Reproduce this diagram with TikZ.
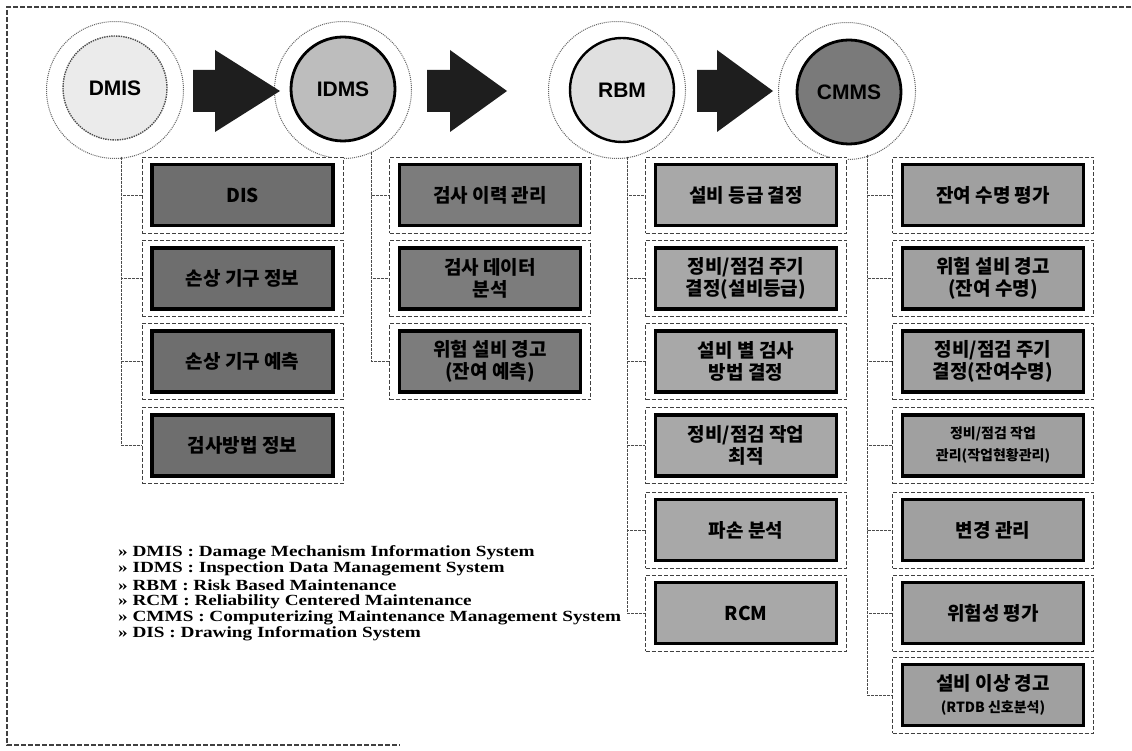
\documentclass[tikz,border=0pt]{standalone}
\usepackage{fontspec}
\setmainfont{Liberation Serif}
\newfontfamily\kr{Noto Sans CJK KR}
\newfontfamily\lab{Liberation Sans}
\definecolor{arrowfill}{HTML}{1E1E1E}
\definecolor{fdmis}{HTML}{EBEBEB}
\definecolor{fidms}{HTML}{BDBDBD}
\definecolor{frbm}{HTML}{E0E0E0}
\definecolor{fcmms}{HTML}{7A7A7A}
\definecolor{bdmis}{HTML}{6E6E6E}
\definecolor{bidms}{HTML}{7C7C7C}
\definecolor{brbm}{HTML}{A8A8A8}
\definecolor{bcmms}{HTML}{A0A0A0}
\tikzset{
  ring/.style={circle, minimum size=137pt, inner sep=0pt, draw=black!60, densely dotted, line width=1pt, fill=white},
  core/.style={circle, minimum size=104pt, inner sep=0pt, line width=2.8pt, draw=black, font=\lab\bfseries\fontsize{21}{23}\selectfont},
  outerbox/.style={rectangle, minimum width=201pt, minimum height=76pt, inner sep=0pt, draw=black!75, dash pattern=on 4pt off 2pt, line width=0.9pt, fill=white},
  innerbox/.style={rectangle, minimum width=181pt, minimum height=61pt, inner sep=0pt, draw=black, line width=3.5pt, align=center, font=\kr\bfseries\fontsize{19}{22}\selectfont, text=black},
  bracket/.style={draw=black!70, line width=0.9pt, dash pattern=on 3pt off 1pt},
  frameline/.style={draw=black!75, line width=1.2pt, dash pattern=on 5pt off 2pt},
  legend/.style={anchor=west, inner sep=0pt, font=\bfseries\fontsize{15.5}{17}\selectfont},
  blockarrow/.style={fill=arrowfill, draw=none}
}
\newcommand\entry[5]{%
  \node[outerbox] (#1o) at (#2,#3) {};
  \node[innerbox, fill=#4] (#1) at (#2,#3) {#5};}
\newcommand\barrow[3]{%
  \path[blockarrow] (#1,70) -- (#2,70) -- (#2,50) -- (#3,91) -- (#2,132) -- (#2,112) -- (#1,112) -- cycle;}
\newcommand\legtxt[1]{\scalebox{1.24}[1]{#1}}
\newcommand\smtxt[1]{{\fontsize{14}{17}\selectfont #1}}
\begin{document}
\begin{tikzpicture}[x=1pt,y=-1pt]
\useasboundingbox (0,0) rectangle (1132,751);
\fill[white] (0,0) rectangle (1132,751);
% frame
\coordinate (ftr) at (1131,7);
\coordinate (ftl) at (7,7);
\coordinate (fbl) at (7,745);
\coordinate (fbr) at (400,745);
\draw[frameline] (ftr) -- (ftl) -- (fbl) -- (fbr);

% circles
\node[ring] (dmisr) at (115,90) {};
\node[core, fill=fdmis, draw=black!70, line width=1.4pt, densely dotted] (dmis) at (115,88) {DMIS};
\node[ring] (idmsr) at (343,90) {};
\node[core, fill=fidms] (idms) at (343,89) {IDMS};
\node[ring] (rbmr) at (617,90) {};
\node[core, fill=frbm, line width=2.4pt] (rbm) at (622,90) {RBM};
\node[ring] (cmmsr) at (847,91) {};
\node[core, fill=fcmms] (cmms) at (849,92) {CMMS};

% block arrows
\barrow{193}{215}{280}
\barrow{427}{450}{507}
\barrow{697}{717}{773}

% DMIS column
\entry{d1}{242.5}{195}{bdmis}{DIS}
\entry{d2}{242.5}{278.5}{bdmis}{손상 기구 정보}
\entry{d3}{242.5}{361.5}{bdmis}{손상 기구 예측}
\entry{d4}{242.5}{445.5}{bdmis}{검사방법 정보}
% IDMS column
\entry{i1}{490}{195}{bidms}{검사 이력 관리}
\entry{i2}{490}{278.5}{bidms}{검사 데이터\\분석}
\entry{i3}{490}{361.5}{bidms}{위험 설비 경고\\(잔여 예측)}
% RBM column
\entry{r1}{746}{195}{brbm}{설비 등급 결정}
\entry{r2}{746}{278.5}{brbm}{정비/점검 주기\\결정(설비등급)}
\entry{r3}{746}{361.5}{brbm}{설비 별 검사\\방법 결정}
\entry{r4}{746}{445.5}{brbm}{정비/점검 작업\\최적}
\entry{r5}{746}{530}{brbm}{파손 분석}
\entry{r6}{746}{613}{brbm}{RCM}
% CMMS column
\entry{c1}{993}{195}{bcmms}{잔여 수명 평가}
\entry{c2}{993}{278.5}{bcmms}{위험 설비 경고\\(잔여 수명)}
\entry{c3}{993}{361.5}{bcmms}{정비/점검 주기\\결정(잔여수명)}
\entry{c4}{993}{445.5}{bcmms}{\smtxt{정비/점검 작업}\\\smtxt{관리(작업현황관리)}}
\entry{c5}{993}{530}{bcmms}{변경 관리}
\entry{c6}{993}{613}{bcmms}{위험성 평가}
\entry{c7}{993}{695}{bcmms}{설비 이상 경고\\\smtxt{(RTDB 신호분석)}}

% brackets
\coordinate (sd) at (121,157);
\coordinate (si) at (371,152);
\coordinate (sr) at (627,157);
\coordinate (sc) at (867,155);
\foreach \b in {d1o,d2o,d3o,d4o} \draw[bracket] (sd) |- (\b.west);
\foreach \b in {i1o,i2o,i3o} \draw[bracket] (si) |- (\b.west);
\foreach \b in {r1o,r2o,r3o,r4o,r5o,r6o} \draw[bracket] (sr) |- (\b.west);
\foreach \b in {c1o,c2o,c3o,c4o,c5o,c6o,c7o} \draw[bracket] (sc) |- (\b.west);

% legend
\node[legend] (l1) at (118,553) {\legtxt{» DMIS : Damage Mechanism Information System}};
\node[legend] (l2) at (118,569) {\legtxt{» IDMS : Inspection Data Management System}};
\node[legend] (l3) at (118,585.5) {\legtxt{» RBM : Risk Based Maintenance}};
\node[legend] (l4) at (118,601.5) {\legtxt{» RCM : Reliability Centered Maintenance}};
\node[legend] (l5) at (118,618) {\legtxt{» CMMS : Computerizing Maintenance Management System}};
\node[legend] (l6) at (118,634) {\legtxt{» DIS : Drawing Information System}};
\end{tikzpicture}
\end{document}
